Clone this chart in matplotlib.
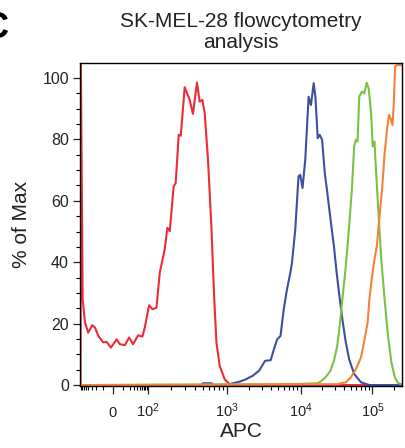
import numpy as np
import matplotlib
matplotlib.use("Agg")
import matplotlib.pyplot as plt
from matplotlib.ticker import FixedLocator, MultipleLocator

plt.rcParams['font.family'] = ['Liberation Sans', 'DejaVu Sans']
plt.rcParams['mathtext.fontset'] = 'custom'
plt.rcParams['mathtext.rm'] = 'Liberation Sans'
plt.rcParams['mathtext.it'] = 'Liberation Sans:italic'

# 各樣本的直方圖 (APC 強度, % of Max)
red_x = [-80, -79, -66.6, -54.5, -41, -28.5, -22, -16, -9.3, -5.7, -1.7, 3.2, 6.4, 12.2, 19, 27.5,
         43, 63, 77, 104, 115, 129, 142, 164, 177, 190, 213, 226, 247, 262, 294, 340, 374, 421,
         455, 492, 527, 580, 640, 690, 741, 815, 944, 1096, 1214, 262144]
red_y = [0, 112, 27.9, 20.4, 17.1, 19.5, 18.7, 16.0, 13.9, 14.1, 12.2, 14.9, 13.3, 13.0, 15.5, 13.3,
         16.2, 15.8, 18.7, 26.0, 24.7, 25.2, 36.6, 44.2, 51.2, 50.1, 64.7, 65.8, 81.5, 81.2, 97.0,
         92.9, 88.3, 98.5, 92.3, 92.9, 88.5, 73.4, 51.7, 30.1, 13.9, 6.3, 1.9, 0.3, 0, 0]

blue_x = [-84, 480, 500, 640, 700, 1000, 1214, 1490, 1832, 2028, 2244, 2754, 3311, 3945, 4365, 4831,
          5356, 5930, 6561, 7290, 7656, 8492, 9400, 9910, 10670, 11640, 12970, 13970, 15250,
          16110, 17350, 18520, 19950, 21780, 23460, 26180, 29160, 31840, 34300, 38200, 42650,
          47450, 55740, 69300, 90700, 262144]
blue_y = [0, 0, 0.6, 0.6, 0, 0, 0.6, 1.1, 1.9, 2.5, 3.0, 4.7, 7.9, 8.1, 11.7, 14.9,
          16.0, 24.7, 31.2, 36.6, 39.8, 50.6, 68.0, 68.5, 64.2, 73.4, 93.9, 91.2, 98.3,
          93.9, 80.4, 81.5, 79.9, 69.0, 63.1, 53.9, 45.2, 36.6, 30.1, 21.4, 13.9,
          8.4, 3.6, 0.9, 0, 0]

green_x = [-84, 7656, 17000, 18900, 22250, 26180, 29160, 32450, 35050, 38200, 42650, 47450, 51750,
           55740, 58900, 62100, 65600, 71600, 77100, 83200, 88800, 95900, 101000, 106900, 113000,
           123300, 133400, 148800, 166000, 185700, 207300, 231500, 258800]
green_y = [0, 0.3, 0.6, 1.1, 2.5, 4.7, 7.9, 12.8, 19.3, 27.9, 38.7, 51.7, 63.6,
           77.7, 79.9, 79.3, 93.9, 95.6, 95.0, 98.5, 96.6, 88.5, 77.7, 79.3, 69.0,
           53.9, 40.9, 27.9, 16.0, 7.4, 2.5, 0.6, 0.3]

orange_x = [-84, 32450, 42650, 50100, 58900, 69300, 77100, 85900, 90700, 99000, 106900, 115400,
            126100, 138000, 148800, 162700, 171800, 179800, 192200, 200600, 209700, 219500, 258800]
orange_y = [0, 0.3, 0.9, 2.5, 5.2, 9.0, 14.4, 20.4, 27.9, 35.5, 40.9, 45.2,
            55.0, 64.7, 75.5, 84.2, 88.0, 86.9, 84.7, 91.8, 103.7, 104.2, 104.2]

x_major = [0, 100, 1000, 10000, 100000]
x_major_labels = ['0', '$10^2$', '$10^3$', '$10^4$', '$10^5$']

# 雙指數 (biexponential) 軸的錨點: 數值 -> 軸上的相對位置
anchor_vals = np.array([-100, 0, 100, 1000, 10000, 100000, 262144])
anchor_pos = np.array([-0.479, 0, 0.479, 1.562, 2.575, 3.562, 3.968])
anchor_u = np.arcsinh(anchor_vals / 10.0)


def biex_forward(x):
    return np.interp(np.arcsinh(np.asarray(x, dtype=float) / 10.0), anchor_u, anchor_pos)


def biex_inverse(p):
    return 10.0 * np.sinh(np.interp(np.asarray(p, dtype=float), anchor_pos, anchor_u))


fig = plt.figure(figsize=(4.05, 4.48), dpi=100)
ax = fig.add_axes([0.1975, 0.1384, 0.7951, 0.721])
ax.set_xscale('function', functions=(biex_forward, biex_inverse))

ax.plot(red_x, red_y, color='#ee2b36', lw=1.5)
ax.plot(blue_x, blue_y, color='#3e4ea1', lw=1.5)
ax.plot(green_x, green_y, color='#7cc242', lw=1.5)
ax.plot(orange_x, orange_y, color='#f5823a', lw=1.5)

ax.set_xlim(-84, 262144)
ax.set_ylim(-0.3, 104.9)

minors = list(range(-80, 0, 10)) + list(range(10, 100, 10))
for n in range(2, 6):
    minors += [k * 10 ** n for k in range(2, 10)]
minors = [m for m in minors if m < 262144]
ax.xaxis.set_major_locator(FixedLocator(x_major))
ax.xaxis.set_minor_locator(FixedLocator(minors))
ax.set_xticklabels(x_major_labels)
ax.yaxis.set_major_locator(MultipleLocator(20))
ax.yaxis.set_minor_locator(MultipleLocator(5))

ax.tick_params(axis='x', which='major', length=6, width=0.9, labelsize=10.5, colors='#222222', pad=16)
ax.tick_params(axis='x', which='minor', length=3, width=0.8)
ax.tick_params(axis='y', which='major', length=5, width=0.9, labelsize=11.5, colors='#222222', pad=3)
ax.tick_params(axis='y', which='minor', length=3, width=0.8)
for lbl in ax.get_xticklabels():
    lbl.set_verticalalignment('baseline')
for s in ax.spines.values():
    s.set_linewidth(1.0)

ax.set_xlabel('APC', fontsize=15, labelpad=2, color='#222222')
ax.set_ylabel('% of Max', fontsize=15, labelpad=8, color='#222222')
ax.set_title('SK-MEL-28 flowcytometry\nanalysis', fontsize=15, pad=11, color='#222222',
             linespacing=1.1)

fig.text(-0.043, 0.975, 'C', fontsize=26, fontweight='bold', va='top', ha='left')

fig.savefig('out.png', dpi=100)
